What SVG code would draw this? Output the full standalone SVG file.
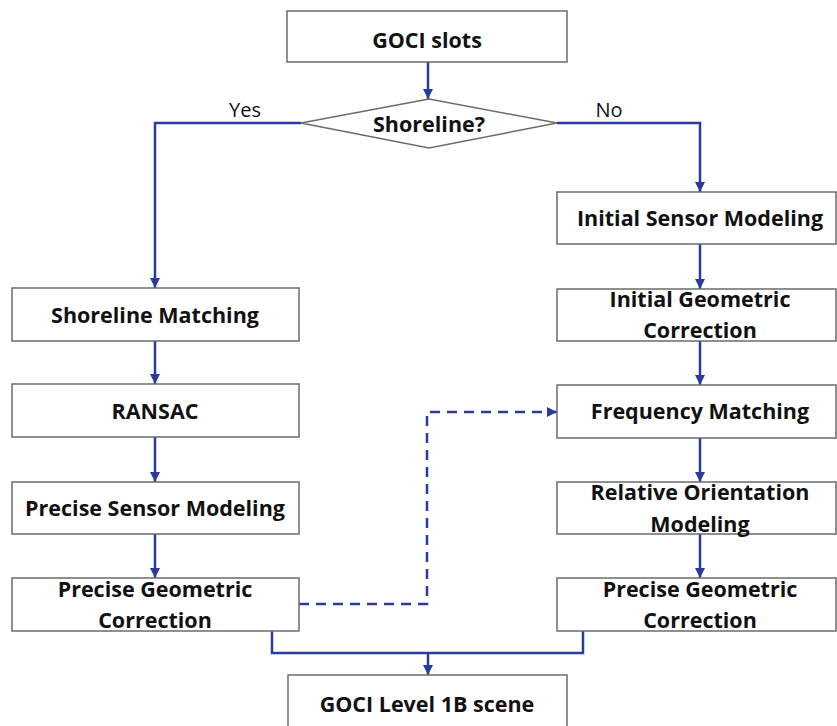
<svg xmlns="http://www.w3.org/2000/svg" width="837" height="726" viewBox="0 0 837 726">
<style>
.box{fill:#fff;stroke:#6b6b6b;stroke-width:1.5}
.t{font-family:"Open Sans","Noto Sans","Liberation Sans",sans-serif;font-weight:bold;font-size:21.5px;fill:#111;text-anchor:middle}
.lbl{font-family:"Open Sans","Noto Sans","Liberation Sans",sans-serif;font-size:20px;fill:#111;text-anchor:middle}
.c{fill:none;stroke:#2B3A9E;stroke-width:2.5}
.d{stroke-dasharray:10 7}
</style>
<defs>
<marker id="ah" viewBox="0 0 10 10" refX="10" refY="5" markerWidth="10" markerHeight="10" markerUnits="userSpaceOnUse" orient="auto">
<path d="M0,0 L10,5 L0,10 z" fill="#2B3A9E"/>
</marker>
</defs>
<g id="connectors">
<path class="c" d="M428,62 V99" marker-end="url(#ah)"/>
<path class="c" d="M301,123 H155 V288" marker-end="url(#ah)"/>
<path class="c" d="M557,123 H700 V192" marker-end="url(#ah)"/>
<path class="c" d="M155,341 V384" marker-end="url(#ah)"/>
<path class="c" d="M155,437 V482" marker-end="url(#ah)"/>
<path class="c" d="M155,534 V578" marker-end="url(#ah)"/>
<path class="c" d="M700,244 V289" marker-end="url(#ah)"/>
<path class="c" d="M700,341 V385" marker-end="url(#ah)"/>
<path class="c" d="M700,438 V482" marker-end="url(#ah)"/>
<path class="c" d="M700,534 V578" marker-end="url(#ah)"/>
<path class="c d" d="M299,604 H427 V412 H557" marker-end="url(#ah)"/>
<path class="c" d="M272,631 V653 H583 V631"/>
<path class="c" d="M428,653 V675" marker-end="url(#ah)"/>
<text class="lbl" x="245" y="117">Yes</text>
<text class="lbl" x="609" y="117">No</text>
</g>
<g id="goci-slots"><rect class="box" x="287" y="11" width="280" height="51"/><text class="t" x="427" y="48">GOCI slots</text></g>
<g id="shoreline-q"><path class="box" d="M301,123 L429,99 L557,123 L429,148 z"/><text class="t" x="429" y="132">Shoreline?</text></g>
<g id="shoreline-matching"><rect class="box" x="12" y="288" width="287" height="53"/><text class="t" x="155" y="323">Shoreline Matching</text></g>
<g id="ransac"><rect class="box" x="12" y="384" width="287" height="53"/><text class="t" x="155" y="419">RANSAC</text></g>
<g id="precise-sensor"><rect class="box" x="12" y="482" width="287" height="52"/><text class="t" x="155" y="516">Precise Sensor Modeling</text></g>
<g id="precise-geo-left"><rect class="box" x="12" y="578" width="287" height="53"/><text class="t" x="155" y="597">Precise Geometric</text><text class="t" x="155" y="628">Correction</text></g>
<g id="initial-sensor"><rect class="box" x="557" y="192" width="279" height="52"/><text class="t" x="700" y="226">Initial Sensor Modeling</text></g>
<g id="initial-geo"><rect class="box" x="557" y="289" width="279" height="52"/><text class="t" x="700" y="307">Initial Geometric</text><text class="t" x="700" y="338">Correction</text></g>
<g id="frequency"><rect class="box" x="557" y="385" width="279" height="53"/><text class="t" x="700" y="419">Frequency Matching</text></g>
<g id="relative"><rect class="box" x="557" y="482" width="279" height="52"/><text class="t" x="700" y="500">Relative Orientation</text><text class="t" x="700" y="532">Modeling</text></g>
<g id="precise-geo-right"><rect class="box" x="557" y="578" width="279" height="53"/><text class="t" x="700" y="597">Precise Geometric</text><text class="t" x="700" y="628">Correction</text></g>
<g id="level1b"><rect class="box" x="288" y="675" width="279" height="60"/><text class="t" x="427" y="712">GOCI Level 1B scene</text></g>
</svg>
